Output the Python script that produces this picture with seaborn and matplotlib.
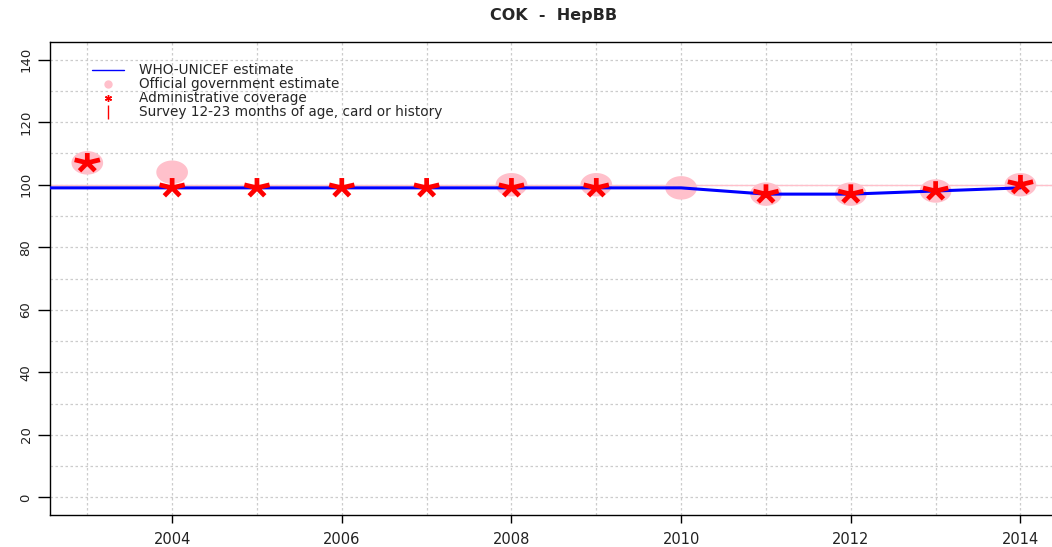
import seaborn as sns
import matplotlib.pyplot as plt
import pandas as pd
import numpy as np
from matplotlib.path import Path
from matplotlib.lines import Line2D

# WHO-UNICEF estimate
who_years = [2002, 2003, 2004, 2005, 2006, 2007, 2008, 2009, 2010, 2011, 2012, 2013, 2014]
who_values = [99, 99, 99, 99, 99, 99, 99, 99, 99, 97, 97, 98, 99]

# Official government estimate
gov_years = [2003, 2004, 2008, 2009, 2010, 2011, 2012, 2013, 2014]
gov_values = [107, 104, 100, 100, 99, 97, 97, 98, 100]

# Administrative coverage
admin_years = [2003, 2004, 2005, 2006, 2007, 2008, 2009, 2011, 2012, 2013, 2014]
admin_values = [107, 99, 99, 99, 99, 99, 99, 97, 97, 98, 100]

legend_labels = ["WHO-UNICEF estimate", "Official government estimate",
                 "Administrative coverage", "Survey 12-23 months of age, card or history"]

who_df = pd.DataFrame({"year": who_years, "value": who_values})
gov_df = pd.DataFrame({"year": gov_years, "value": gov_values})
admin_df = pd.DataFrame({"year": admin_years, "value": admin_values})

# stretched ellipse and 5-arm asterisk markers (R device looks squashed)
t = np.linspace(0, 2 * np.pi, 60)
ellipse = Path(np.column_stack([1.35 * np.cos(t), np.sin(t)]), closed=True)
verts, codes = [], []
for ang in [90, 18, 162, 234, 306]:
    a = np.deg2rad(ang)
    verts += [(0, 0), (1.35 * np.cos(a), np.sin(a))]
    codes += [Path.MOVETO, Path.LINETO]
asterisk = Path(verts, codes)

sns.set_style("white")
plt.rcParams['font.family'] = ['DejaVu Sans']

fig = plt.figure(figsize=(10.52, 5.47), dpi=100)
ax = fig.add_axes([0.0475, 0.0585, 0.958, 0.8645])

ax.axhline(100, color="pink", lw=1, zorder=1)
sns.scatterplot(data=gov_df, x="year", y="value", marker=ellipse, s=520,
                color="pink", edgecolor="none", ax=ax, zorder=2, legend=False)
sns.lineplot(data=who_df, x="year", y="value", color="blue", lw=2.2, ax=ax, zorder=3)
sns.scatterplot(data=admin_df, x="year", y="value", marker=asterisk, s=330,
                facecolor="none", edgecolor="red", linewidth=3.4, ax=ax, zorder=4, legend=False)

ax.set_xlim(2002.56, 2014.44)
ax.set_ylim(-5.6, 145.6)
ax.set_xticks(np.arange(2004, 2015, 2))
ax.set_xticks(np.arange(2003, 2015, 1), minor=True)
ax.set_yticks(np.arange(0, 141, 20))
ax.set_yticks(np.arange(0, 141, 10), minor=True)
ax.grid(True, which="both", color="#cccccc", linestyle=(0, (2, 2)), lw=0.9)
ax.tick_params(which="minor", length=0, bottom=False, left=False)
ax.tick_params(axis="x", which="major", bottom=True, length=6, width=1, direction="out",
               labelsize=10.5, colors="black", labelcolor="#222222", pad=6)
ax.tick_params(axis="y", which="major", left=True, length=8.5, width=1, direction="out",
               labelsize=9.5, colors="black", labelcolor="#222222", pad=4)
for lbl in ax.get_yticklabels():
    lbl.set_rotation(90)
    lbl.set_va("center")
for sp in ax.spines.values():
    sp.set_color("black")
    sp.set_linewidth(1)
ax.set_xlabel("")
ax.set_ylabel("")

handles = [Line2D([], [], color="blue", lw=1),
           Line2D([], [], color="pink", marker="o", ls="none", ms=5),
           Line2D([], [], color="red", marker=(6, 2, 0), ls="none", ms=5, mew=1),
           Line2D([], [], color="red", marker="|", ls="none", ms=10, mew=1)]
ax.legend(handles, legend_labels, loc="upper left", bbox_to_anchor=(0.042, 0.955),
          frameon=False, fontsize=9.8, handlelength=2.3, handletextpad=1.1,
          labelspacing=0.0, borderpad=0, borderaxespad=0)

fig.suptitle("COK  -  HepBB", x=0.526, y=0.985, fontsize=11.5, fontweight="bold")

plt.savefig("out.png", dpi=100)
